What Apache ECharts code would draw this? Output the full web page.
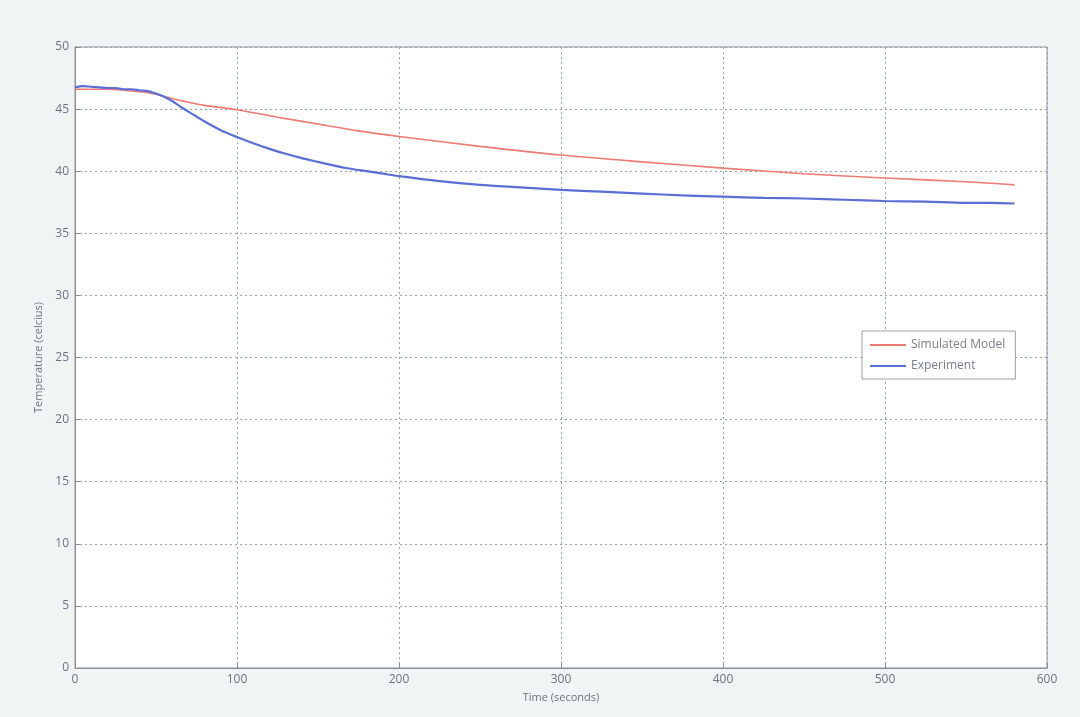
<!DOCTYPE html>
<html><head><meta charset="utf-8">
<script src="https://cdn.jsdelivr.net/npm/echarts@6/dist/echarts.min.js"></script>
<style>html,body{margin:0;padding:0;background:#f1f4f4}#c{width:1080px;height:717px}</style>
</head><body><div id="c"></div>
<script>
const xTicks = [0,100,200,300,400,500,600];
const yTicks = [0,5,10,15,20,25,30,35,40,45,50];
const simTime = [0,20,40,50,60,70,80,100,125,150,175,200,250,300,350,400,450,500,550,580];
const simTemp = [46.6,46.6,46.4,46.2,45.85,45.55,45.3,44.95,44.35,43.8,43.25,42.8,42.0,41.3,40.75,40.25,39.8,39.45,39.15,38.9];
const expTime = [0,5,10,15,20,25,30,35,40,45,50,55,60,65,70,75,80,90,100,110,120,130,140,150,160,170,180,190,200,225,250,275,300,325,350,375,400,425,450,475,500,525,550,565,580];
const expTemp = [46.75,46.85,46.8,46.75,46.7,46.7,46.6,46.6,46.5,46.45,46.25,46.0,45.65,45.2,44.8,44.4,44.0,43.3,42.75,42.25,41.8,41.4,41.05,40.75,40.45,40.2,40.0,39.8,39.6,39.2,38.9,38.7,38.5,38.35,38.2,38.05,37.95,37.85,37.8,37.7,37.6,37.55,37.45,37.45,37.4];

const chart = echarts.init(document.getElementById('c'));
const axisCol = '#8a8f99';
chart.setOption({
  backgroundColor: '#f1f4f4',
  animation: false,
  grid: {left: 75, right: 33, top: 47, bottom: 49, show: true, backgroundColor: '#ffffff', borderColor: axisCol, borderWidth: 1},
  legend: {
    orient: 'vertical', left: 862, top: 331,
    backgroundColor: '#ffffff', borderColor: '#9aa0a8', borderWidth: 1,
    padding: [8, 10, 7, 8], itemGap: 9, itemWidth: 36, itemHeight: 2,
    icon: 'rect',
    textStyle: {color: '#7a808c', fontSize: 12, fontFamily: 'Open Sans'},
    data: ['Simulated Model', 'Experiment']
  },
  xAxis: {
    type: 'value', min: 0, max: 600, interval: 100,
    name: 'Time (seconds)', nameLocation: 'middle', nameGap: 24,
    nameTextStyle: {color: '#6d7280', fontSize: 11, fontFamily: 'Open Sans'},
    axisLine: {show: true, lineStyle: {color: axisCol}},
    axisTick: {show: true, inside: true, length: 5, lineStyle: {color: axisCol}},
    axisLabel: {color: '#6d7280', fontSize: 12, fontFamily: 'Open Sans', margin: 6,
      formatter: v => xTicks.includes(v) ? String(v) : ''},
    splitLine: {show: true, lineStyle: {color: '#9aa3b0', type: [2, 3], width: 1}}
  },
  yAxis: {
    type: 'value', min: 0, max: 50, interval: 5,
    name: 'Temperature (celcius)', nameLocation: 'middle', nameGap: 28,
    nameTextStyle: {color: '#6d7280', fontSize: 11, fontFamily: 'Open Sans'},
    axisLine: {show: true, lineStyle: {color: axisCol}},
    axisTick: {show: true, inside: true, length: 5, lineStyle: {color: axisCol}},
    axisLabel: {color: '#6d7280', fontSize: 12, fontFamily: 'Open Sans', margin: 6,
      formatter: v => yTicks.includes(v) ? String(v) : ''},
    splitLine: {show: true, lineStyle: {color: '#9aa3b0', type: [2, 3], width: 1}}
  },
  series: [
    {name: 'Simulated Model', type: 'line', showSymbol: false, symbol: 'none', smooth: 0.3,
     color: '#ee7a72', lineStyle: {width: 1.6, color: '#ee7a72'},
     data: simTime.map((t, i) => [t, simTemp[i]])},
    {name: 'Experiment', type: 'line', showSymbol: false, symbol: 'none', smooth: 0.3,
     color: '#5a6fd6', lineStyle: {width: 2.2, color: '#5a6fd6'},
     data: expTime.map((t, i) => [t, expTemp[i]])}
  ]
});
</script></body></html>
